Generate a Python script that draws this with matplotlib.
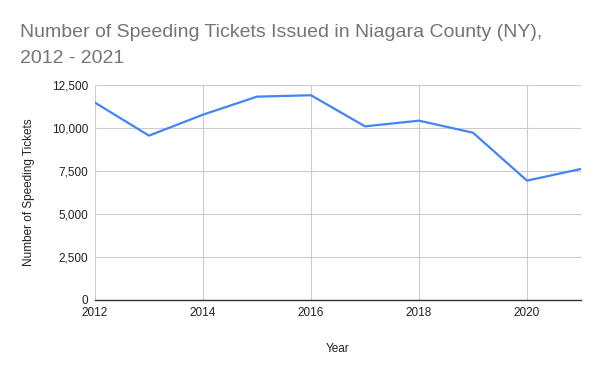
import matplotlib
matplotlib.use('Agg')
import matplotlib.pyplot as plt

plt.rcParams['font.family'] = ['Liberation Sans', 'DejaVu Sans']

years = [2012, 2013, 2014, 2015, 2016, 2017, 2018, 2019, 2020, 2021]
tickets = [11490, 9570, 10790, 11840, 11920, 10110, 10440, 9740, 6950, 7630]
yticks = [0, 2500, 5000, 7500, 10000, 12500]
xticks = [2012, 2014, 2016, 2018, 2020]
title_lines = ['Number of Speeding Tickets Issued in Niagara County (NY),', '2012 - 2021']

fig = plt.figure(figsize=(6, 3.71), dpi=100)
ax = fig.add_axes([95/600, 1-300/371, (581-95)/600, (300-85.3)/371])

ax.plot(years, tickets, color='#4285F4', lw=1.6, solid_joinstyle='round')

ax.set_xlim(2012, 2021)
ax.set_ylim(0, 12500)
ax.set_yticks(yticks)
ax.set_yticklabels(['{:,}'.format(v) for v in yticks])
ax.set_xticks(xticks)
ax.grid(True, color='#cccccc', lw=0.8)
ax.set_axisbelow(True)
for s in ['top', 'right', 'left']:
    ax.spines[s].set_visible(False)
ax.spines['bottom'].set_color('#333333')
ax.spines['bottom'].set_linewidth(1)
ax.tick_params(length=0, labelsize=8.5, labelcolor='#222222')
ax.tick_params(axis='y', pad=5)
ax.tick_params(axis='x', pad=5)

ax.set_xlabel('Year', fontsize=8.5, color='#222222', labelpad=17)
ax.set_ylabel('Number of Speeding Tickets', fontsize=8.5, color='#222222', labelpad=12)

for i, line in enumerate(title_lines):
    fig.text(20/600, 1-(37+26*i)/371, line, fontsize=14, color='#757575',
             va='baseline', ha='left')

fig.savefig('out.png', dpi=100)
